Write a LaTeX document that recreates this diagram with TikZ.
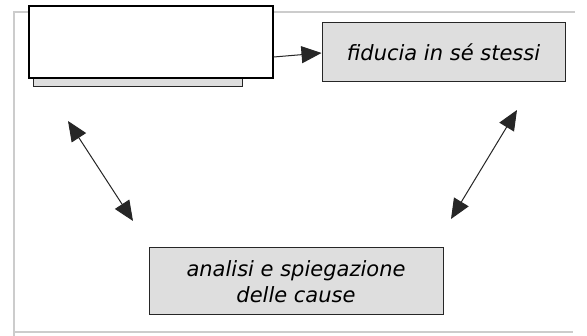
\documentclass[tikz,border=0pt]{standalone}
\usepackage{fontspec}
\setmainfont{DejaVu Sans}
\usetikzlibrary{arrows.meta,positioning}

\begin{document}
\begin{tikzpicture}[x=1pt,y=-1pt,
  box/.style={draw=black!85,line width=1pt,fill=black!13,inner sep=0pt},
  boxtext/.style={font=\itshape\fontsize{21pt}{26pt}\selectfont,align=center,inner sep=0pt},
  tip/.style={-{Triangle[length=20pt,width=17pt]}},
  link/.style={draw=black!85,line width=1pt,{Triangle[length=20pt,width=17pt]}-{Triangle[length=20pt,width=17pt]}},
  frame/.style={draw=black!20,line width=1.5pt}]
  \useasboundingbox[fill=white] (0,0) rectangle (587,336);
  % page
  \draw[frame] (14,336) -- (14,12) -- (575,12);
  \draw[frame] (14,332) -- (573,332);
  % boxes
  \node[box,minimum width=209pt,minimum height=73pt] (old) at (137.5,50.5) {};
  \node[draw=black,line width=1.2pt,fill=white,minimum width=244pt,minimum height=72pt] (hidden) at (151,42) {};
  \node[box,minimum width=243pt,minimum height=59pt] (trust) at (443.5,52.5) {};
  \node[boxtext] at (trust) {fiducia in sé stessi};
  \node[box,minimum width=294pt,minimum height=67pt] (causes) at (296,281.5) {};
  \node[boxtext] at (causes) {analisi e spiegazione\\delle cause};
  % arrows
  \draw[draw=black!85,line width=1pt,tip] (hidden.east |- 0,57) -- (trust.west |- 0,53);
  \coordinate (a1) at (68,121);
  \coordinate (a2) at (133,221);
  \coordinate (b1) at (517,110);
  \coordinate (b2) at (451,219);
  \draw[link] (a1) -- (a2);
  \draw[link] (b1) -- (b2);
\end{tikzpicture}
\end{document}
